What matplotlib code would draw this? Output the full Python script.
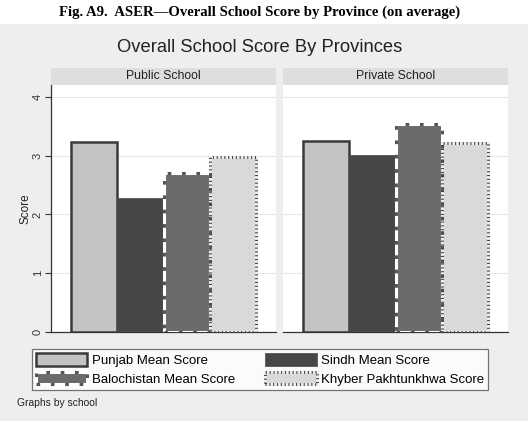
import numpy as np
import matplotlib.pyplot as plt
from matplotlib.patches import Rectangle

# datos
escuelas = ["Public School", "Private School"]
provincias = ["Punjab Mean Score", "Sindh Mean Score",
              "Balochistan Mean Score", "Khyber Pakhtunkhwa Score"]
punjab = [3.23, 3.25]
sindh = [2.28, 3.01]
balochistan = [2.71, 3.54]
kp = [2.98, 3.22]
yticks = [0, 1, 2, 3, 4]

plt.rcParams['font.family'] = ['Liberation Sans', 'DejaVu Sans']

W, H = 528, 421
fig = plt.figure(figsize=(W/100, H/100), dpi=100)
fig.patch.set_facecolor('white')
# fondo gris estilo Stata
fig.patches.append(Rectangle((0, 0), 1, 1-24/H, transform=fig.transFigure,
                             facecolor='#eeeeee', edgecolor='none', zorder=-10))

fig.text(260/W, 1-12/H, "Fig. A9.  ASER\u2014Overall School Score by Province (on average)",
         ha='center', va='center', fontsize=10.6, fontweight='bold',
         family=['Liberation Serif', 'DejaVu Serif'])
fig.text(260/W, 1-48/H, "Overall School Score By Provinces",
         ha='center', va='center', fontsize=13.2, color='#222222')

lefts = [51, 283]
ancho = 225
ax_bot, ax_top = 332, 85
handles = None
for i, esc in enumerate(escuelas):
    ax = fig.add_axes([lefts[i]/W, 1-ax_bot/H, ancho/W, (ax_bot-ax_top)/H])
    ax.set_zorder(2)
    ax.set_facecolor('white')
    x = np.arange(4)
    b1 = ax.bar(x[0], punjab[i], width=1, facecolor='#c3c3c3', edgecolor='#3a3a3a', linewidth=1.8, zorder=3)
    b2 = ax.bar(x[1], sindh[i], width=1, facecolor='#474747', edgecolor='#474747', linewidth=0.5, zorder=3)
    b3a = ax.bar(x[2], balochistan[i], width=1, facecolor='#6b6b6b', edgecolor='white', linewidth=2.2, zorder=3)
    b3b = ax.bar(x[2], balochistan[i], width=1, facecolor='none', edgecolor='#555555', linewidth=2.2,
                 linestyle=(0, (1.2, 3.5)), zorder=4)
    b4a = ax.bar(x[3], kp[i], width=1, facecolor='#d9d9d9', edgecolor='#ececec', linewidth=2.2, zorder=3)
    b4b = ax.bar(x[3], kp[i], width=1, facecolor='none', edgecolor='#444444', linewidth=2.2,
                 linestyle=(0, (0.35, 0.9)), zorder=4)
    if handles is None:
        handles = [b1, b2, (b3a, b3b), (b4a, b4b)]
    ax.set_xlim(-0.944, 3.944)
    ax.set_ylim(0, 4.2)
    ax.set_xticks([])
    ax.set_yticks(yticks)
    ax.yaxis.grid(True, color='#e6e6e6', linewidth=0.8, zorder=0)
    ax.set_axisbelow(True)
    for s in ['top', 'right']:
        ax.spines[s].set_visible(False)
    ax.spines['bottom'].set_color('#333333')
    ax.spines['bottom'].set_linewidth(0.9)
    if i == 0:
        ax.spines['left'].set_color('#333333')
        ax.spines['left'].set_linewidth(0.9)
        ax.tick_params(axis='y', direction='out', length=4, width=0.8, colors='#333333',
                       labelsize=8, labelrotation=90, pad=2)
        for t in ax.get_yticklabels():
            t.set_va('center')
        ax.set_ylabel("Score", fontsize=8.5, color='#222222', labelpad=1)
    else:
        ax.spines['left'].set_visible(False)
        ax.tick_params(axis='y', length=0, labelleft=False)
    # banda con el nombre de la escuela
    fig.patches.append(Rectangle((lefts[i]/W, 1-85/H), ancho/W, 17/H, transform=fig.transFigure,
                                 facecolor='#dedede', edgecolor='none', zorder=1))
    fig.text((lefts[i]+ancho/2)/W, 1-76/H, esc, ha='center', va='center', fontsize=8.8, color='#222222')

# orden por filas como en Stata
orden = [0, 2, 1, 3]
leg = fig.legend([handles[k] for k in orden], [provincias[k] for k in orden],
                 loc='center', bbox_to_anchor=(260/W, 1-369.5/H),
                 ncol=2, fontsize=9.5, frameon=True, fancybox=False, edgecolor='#555555',
                 handlelength=3.9, handleheight=1.1, columnspacing=2.3, handletextpad=0.35,
                 labelspacing=0.35, borderpad=0.3, borderaxespad=0)
leg.get_frame().set_linewidth(0.9)
leg.set_zorder(5)

fig.text(17/W, 1-403/H, "Graphs by school", ha='left', va='center', fontsize=7.4, color='#222222')

fig.savefig("out.png", dpi=100, facecolor=fig.get_facecolor())
